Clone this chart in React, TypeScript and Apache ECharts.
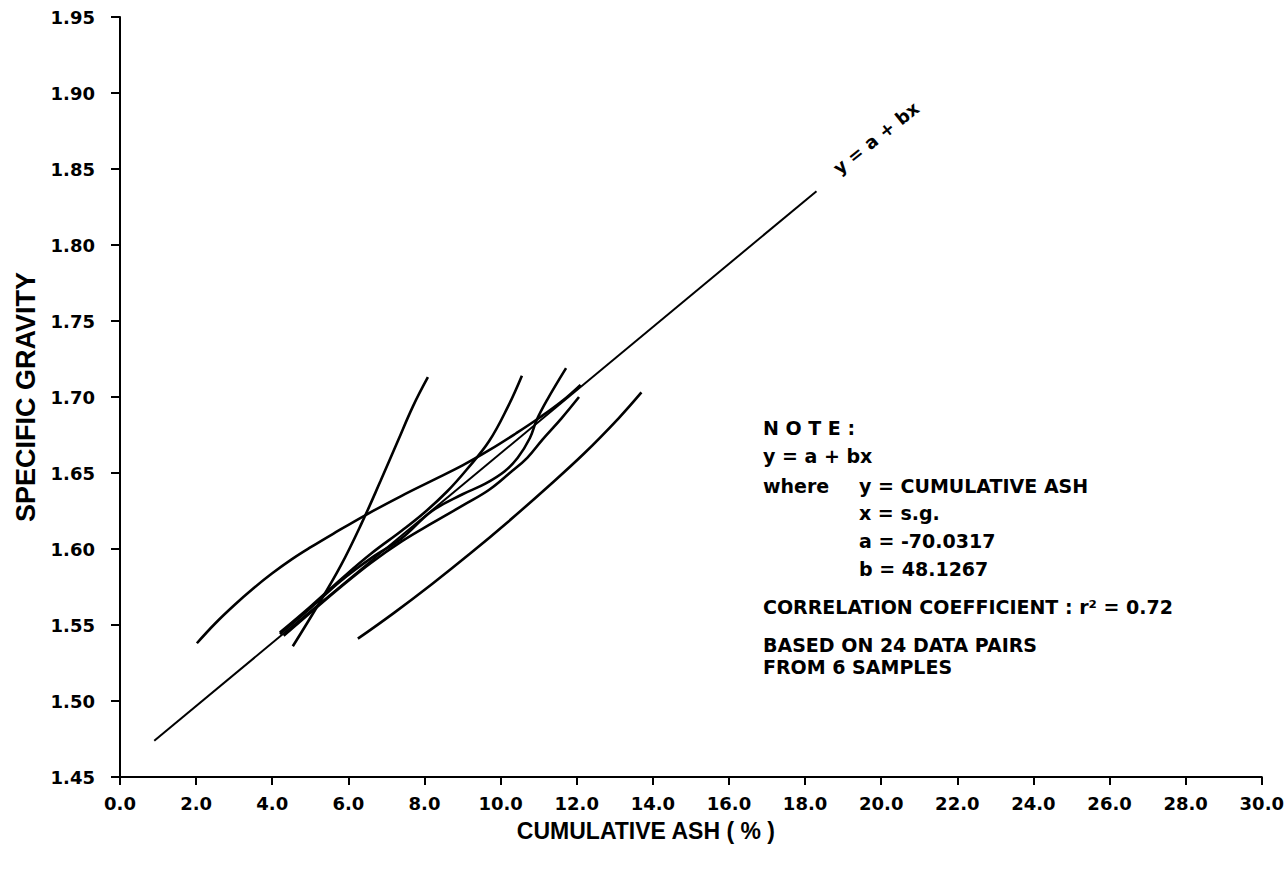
import React, { useEffect, useRef } from "react";
import * as echarts from "echarts";

// ---- data (cumulative ash %, specific gravity) ----
const xTicks = { min: 0, max: 30, step: 2 };
const yTicks = { min: 1.45, max: 1.95, step: 0.05 };

const regressionAsh = [0.9, 18.3];
const regressionSg = [1.4738, 1.8354];

const sampleA_ash = [2.02, 2.5, 3.0, 3.5, 4.0, 4.5, 5.0, 5.6, 6.5, 7.4, 8.2, 9.0, 9.7, 10.4, 11.0, 11.6, 12.1];
const sampleA_sg = [1.538, 1.551, 1.563, 1.574, 1.584, 1.593, 1.601, 1.61, 1.623, 1.635, 1.645, 1.655, 1.665, 1.676, 1.686, 1.697, 1.708];

const sampleB_ash = [4.54, 5.2, 5.8, 6.35, 6.85, 7.3, 7.7, 8.09];
const sampleB_sg = [1.536, 1.563, 1.589, 1.617, 1.645, 1.671, 1.694, 1.713];

const sampleC_ash = [6.25, 7.2, 8.2, 9.2, 10.2, 11.2, 12.2, 13.1, 13.7];
const sampleC_sg = [1.541, 1.558, 1.577, 1.597, 1.618, 1.64, 1.663, 1.686, 1.703];

const sampleD_ash = [4.2, 5.0, 5.8, 6.6, 7.4, 8.0, 8.6, 9.1, 9.7, 10.2, 10.56];
const sampleD_sg = [1.545, 1.562, 1.58, 1.597, 1.612, 1.624, 1.638, 1.652, 1.671, 1.694, 1.714];

const sampleE_ash = [4.2, 5.0, 5.8, 6.6, 7.4, 8.2, 9.0, 9.6, 10.1, 10.45, 10.77, 10.95, 11.22, 11.72];
const sampleE_sg = [1.544, 1.561, 1.579, 1.594, 1.607, 1.625, 1.636, 1.643, 1.651, 1.66, 1.673, 1.685, 1.698, 1.719];

const sampleF_ash = [4.3, 5.0, 5.8, 6.6, 7.4, 8.2, 9.1, 9.7, 10.24, 10.7, 11.1, 11.6, 12.06];
const sampleF_sg = [1.543, 1.558, 1.575, 1.591, 1.605, 1.617, 1.63, 1.639, 1.65, 1.66, 1.672, 1.686, 1.7];

const samples = [
  { name: "Sample A", ash: sampleA_ash, sg: sampleA_sg },
  { name: "Sample B", ash: sampleB_ash, sg: sampleB_sg },
  { name: "Sample C", ash: sampleC_ash, sg: sampleC_sg },
  { name: "Sample D", ash: sampleD_ash, sg: sampleD_sg },
  { name: "Sample E", ash: sampleE_ash, sg: sampleE_sg },
  { name: "Sample F", ash: sampleF_ash, sg: sampleF_sg },
];

const noteLines = [
  { text: "N O T E :", x: 763, y: 428 },
  { text: "y = a + bx", x: 763, y: 456 },
  { text: "where", x: 763, y: 486 },
  { text: "y = CUMULATIVE ASH", x: 859, y: 486 },
  { text: "x = s.g.", x: 859, y: 513 },
  { text: "a = -70.0317", x: 859, y: 541 },
  { text: "b = 48.1267", x: 859, y: 569 },
  { text: "CORRELATION COEFFICIENT : r² = 0.72", x: 763, y: 607 },
  { text: "BASED ON 24 DATA PAIRS", x: 763, y: 645 },
  { text: "FROM 6 SAMPLES", x: 763, y: 667 },
];

const zip = (a: number[], b: number[]) => a.map((v, i) => [v, b[i]]);

export default function App() {
  const ref = useRef<HTMLDivElement>(null);
  useEffect(() => {
    if (!ref.current) return;
    const chart = echarts.init(ref.current, undefined, { renderer: "svg" });
    const bold = "DejaVu Sans";
    const option: any = {
      animation: false,
      backgroundColor: "#ffffff",
      grid: { left: 120, right: 25, top: 17, bottom: 95, containLabel: false },
      xAxis: {
        type: "value",
        min: xTicks.min,
        max: xTicks.max,
        interval: xTicks.step,
        name: "CUMULATIVE ASH ( % )",
        nameLocation: "middle",
        nameGap: 42,
        nameTextStyle: {
          fontFamily: "Liberation Sans",
          fontWeight: "bold",
          fontSize: 23,
          color: "#000",
          padding: [0, 90, 0, 0],
        },
        axisLine: { show: true, onZero: false, lineStyle: { color: "#000", width: 2 } },
        axisTick: { show: true, inside: false, length: 8, lineStyle: { color: "#000", width: 2 } },
        axisLabel: {
          margin: 17,
          color: "#000",
          fontFamily: bold,
          fontWeight: "bold",
          fontSize: 18,
          formatter: (v: number) => v.toFixed(1),
        },
        splitLine: { show: false },
      },
      yAxis: {
        type: "value",
        min: yTicks.min,
        max: yTicks.max,
        interval: yTicks.step,
        name: "SPECIFIC GRAVITY",
        nameLocation: "middle",
        nameRotate: 90,
        nameGap: 76,
        nameTextStyle: {
          fontFamily: "Liberation Sans",
          fontWeight: "bold",
          fontSize: 27,
          color: "#000",
        },
        axisLine: { show: true, onZero: false, lineStyle: { color: "#000", width: 2 } },
        axisTick: { show: true, inside: false, length: 9, lineStyle: { color: "#000", width: 2 } },
        axisLabel: {
          margin: 25,
          color: "#000",
          fontFamily: bold,
          fontWeight: "bold",
          fontSize: 18,
          formatter: (v: number) => v.toFixed(2),
        },
        splitLine: { show: false },
      },
      series: [
        {
          name: "y = a + bx",
          type: "line",
          data: zip(regressionAsh, regressionSg),
          showSymbol: false,
          lineStyle: { color: "#000", width: 2 },
        },
        ...samples.map((s) => ({
          name: s.name,
          type: "line",
          data: zip(s.ash, s.sg),
          showSymbol: false,
          smooth: 0.4,
          lineStyle: { color: "#000", width: 2.6 },
        })),
      ],
      graphic: [
        {
          type: "text",
          x: 876,
          y: 138,
          rotation: (38.5 * Math.PI) / 180,
          style: {
            text: "y = a + bx",
            fontFamily: bold,
            fontWeight: "bold",
            fontSize: 18,
            fill: "#000",
            align: "center",
            verticalAlign: "middle",
          },
        },
        ...noteLines.map((l) => ({
          type: "text",
          x: l.x,
          y: l.y,
          style: {
            text: l.text,
            fontFamily: bold,
            fontWeight: "bold",
            fontSize: 19,
            fill: "#000",
            align: "left",
            verticalAlign: "middle",
          },
        })),
      ],
    };
    chart.setOption(option);
    return () => chart.dispose();
  }, []);
  return (
    <div
      ref={ref}
      style={{ position: "fixed", left: 0, top: 0, width: 1287, height: 872, background: "#fff" }}
    />
  );
}
